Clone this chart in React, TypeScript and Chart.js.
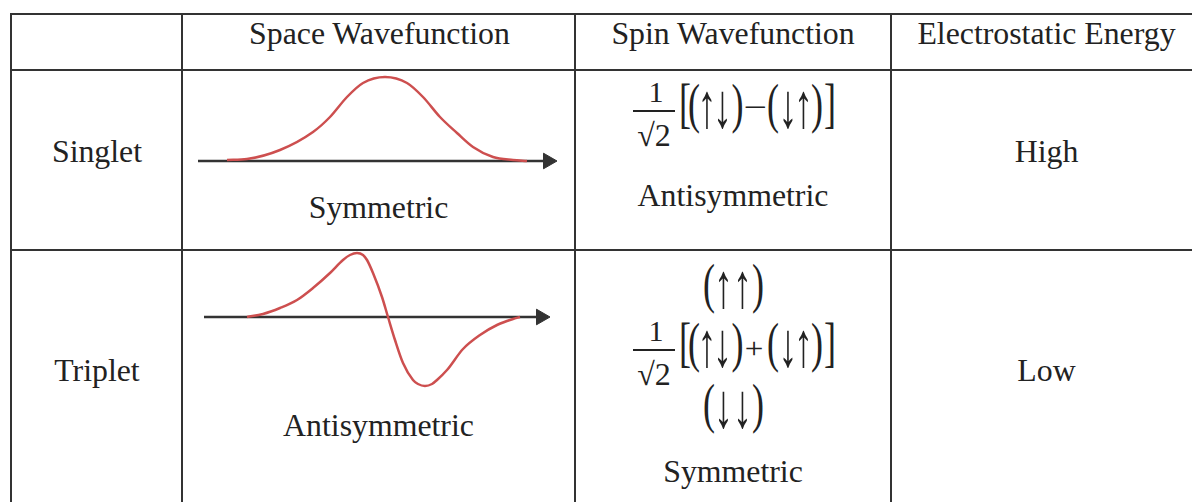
import React, { useEffect, useRef } from 'react';
import { Chart, registerables } from 'chart.js';

Chart.register(...registerables);

// ---------- data ----------
const columnHeaders = ['Space Wavefunction', 'Spin Wavefunction', 'Electrostatic Energy'];
const stateNames = ['Singlet', 'Triplet'];
const energyLevels = ['High', 'Low'];
const spaceSymmetry = ['Symmetric', 'Antisymmetric'];
const spinSymmetry = ['Antisymmetric', 'Symmetric'];
const singletSpinTerms = ['↑↓', '↓↑'];
const tripletSpinTerms = ['↑↓', '↓↑'];
const tripletSpinTop = '↑↑';
const tripletSpinBottom = '↓↓';
const spinSigns = ['−', '+'];

// Singlet (symmetric) space wavefunction: position relative to the peak, amplitude
const singletX = [-158, -138, -105, -72, -55, -38, -22, 0, 22, 38, 55, 72, 88, 108, 128, 142];
const singletY = [1, 2, 11, 29, 44, 64, 78, 84, 78, 64, 44, 28, 14, 4, 1, 0];
const singletAxisX = [-187, 163];

// Triplet (antisymmetric) space wavefunction: position relative to the node, amplitude
const tripletX = [-141, -125, -108, -91, -75, -58, -45, -38, -31, -25, -21, -15, -6, 0, 7, 15, 25, 30, 37, 44, 49, 59, 75, 92, 109, 125, 132];
const tripletY = [0, 3, 9, 17, 29, 44, 57, 62, 64, 62, 57, 44, 20, 0, -23, -46, -63, -67, -69, -67, -63, -53, -32, -18, -8, -2, 0];
const tripletAxisX = [-184, 153];

// ---------- styles ----------
const INK = '#222';
const RULE = '#333';
const RED = '#cd4f4f';
const FONT = '"Liberation Serif", "Times New Roman", serif';

type Box = { x: number; y: number; w: number; h: number };

function WaveChart({ xs, ys, axisX, box, origin }: { xs: number[]; ys: number[]; axisX: number[]; box: Box; origin: [number, number] }) {
  const ref = useRef<HTMLCanvasElement>(null);
  useEffect(() => {
    const chart = new Chart(ref.current as HTMLCanvasElement, {
      type: 'line',
      data: {
        datasets: [
          {
            data: xs.map((x, i) => ({ x, y: ys[i] })),
            borderColor: RED,
            borderWidth: 2.5,
            pointRadius: 0,
            pointHoverRadius: 0,
            cubicInterpolationMode: 'monotone',
            fill: false,
          },
          {
            data: axisX.map((x) => ({ x, y: 0 })),
            borderColor: RULE,
            borderWidth: 2.5,
            pointRadius: [0, 9],
            pointHoverRadius: 0,
            pointStyle: 'triangle',
            pointRotation: 90,
            pointBackgroundColor: RULE,
            pointBorderColor: RULE,
            pointBorderWidth: 1,
            fill: false,
          },
        ],
      } as any,
      options: {
        animation: false,
        responsive: false,
        events: [],
        layout: { padding: 0, autoPadding: false } as any,
        plugins: { legend: { display: false }, tooltip: { enabled: false } },
        scales: {
          x: { type: 'linear', display: false, min: box.x - origin[0], max: box.x + box.w - origin[0] },
          y: { type: 'linear', display: false, min: origin[1] - (box.y + box.h), max: origin[1] - box.y },
        },
      },
    });
    return () => chart.destroy();
  }, []);
  return (
    <canvas
      ref={ref}
      width={box.w}
      height={box.h}
      style={{ position: 'absolute', left: box.x, top: box.y, width: box.w, height: box.h }}
    />
  );
}

const TS = 31.8;

function Label({ text, cx, base, size = TS }: { text: string; cx: number; base: number; size?: number }) {
  return (
    <div
      style={{
        position: 'absolute',
        left: cx,
        top: base - 0.8375 * size,
        fontSize: size,
        lineHeight: `${size}px`,
        transform: 'translateX(-50%)',
        whiteSpace: 'nowrap',
      }}
    >
      {text}
    </div>
  );
}

function G({ ch, cx, cy, size, sx = 1, sy = 1, ls = 0, lh = 1 }: { ch: string; cx: number; cy: number; size: number; sx?: number; sy?: number; ls?: number; lh?: number }) {
  return (
    <span
      style={{
        position: 'absolute',
        left: cx,
        top: cy,
        fontSize: size,
        lineHeight: `${size * lh}px`,
        letterSpacing: ls,
        transform: `translate(-50%, -50%) scale(${sx}, ${sy})`,
        whiteSpace: 'nowrap',
      }}
    >
      {ch}
    </span>
  );
}

const PS = 36; // paren font size
const PSY = 1.5;
const AS = 36; // arrow font size
const ASX = 1.05;
const ASY = 1.75;
const TLH = 0.7; // compact line box for stretched glyphs

let arrowAdvance: number | null = null;
function getArrowAdvance(): number {
  if (arrowAdvance == null) {
    const ctx = document.createElement('canvas').getContext('2d');
    if (ctx) {
      ctx.font = `${AS}px ${FONT}`;
      arrowAdvance = ctx.measureText('↑').width;
    } else {
      arrowAdvance = 18;
    }
  }
  return arrowAdvance;
}

// two arrows as one text, centred on `mid`, their centres `gap` px apart
function ArrowPair({ pair, mid, cy, gap }: { pair: string; mid: number; cy: number; gap: number }) {
  const adv = getArrowAdvance();
  const ls = gap / ASX - adv;
  return <G ch={pair} cx={mid + (ls / 2) * ASX} cy={cy} size={AS} sx={ASX} sy={ASY} ls={ls} lh={TLH} />;
}

function Paren({ ch, cx, cy, sy = PSY, ls = 0 }: { ch: string; cx: number; cy: number; sy?: number; ls?: number }) {
  return <G ch={ch} cx={cx} cy={cy} size={PS} sy={sy} ls={ls} lh={TLH} />;
}

function SpinFormula({ x0, y0, terms, sign }: { x0: number; y0: number; terms: string[]; sign: string }) {
  return (
    <>
      <G ch="1" cx={x0 + 24} cy={y0 - 18} size={30} />
      <div style={{ position: 'absolute', left: x0 + 1, top: y0 + 0.25, width: 42, height: 1.5, background: INK }} />
      <G ch="√2" cx={x0 + 22} cy={y0 + 25} size={32} />
      <Paren ch="[(" cx={x0 + 56} cy={y0 - 5} sy={1.52} ls={-3} />
      <ArrowPair pair={terms[0]} mid={x0 + 82.75} cy={y0 - 3} gap={15.5} />
      <Paren ch=")" cx={x0 + 105.5} cy={y0 - 5} />
      {sign === '+' ? (
        <G ch="+" cx={x0 + 122} cy={y0 - 2} size={30} sx={1.1} lh={TLH} />
      ) : (
        <G ch="−" cx={x0 + 123} cy={y0 - 3} size={32} sx={1.3} lh={TLH} />
      )}
      <Paren ch="(" cx={x0 + 141} cy={y0 - 5} />
      <ArrowPair pair={terms[1]} mid={x0 + 163.25} cy={y0 - 3} gap={15.5} />
      <Paren ch=")" cx={x0 + 185} cy={y0 - 5} />
      <Paren ch="]" cx={x0 + 198} cy={y0 - 5} sy={1.52} />
    </>
  );
}

function SpinPair({ x0, cy, pair }: { x0: number; cy: number; pair: string }) {
  return (
    <>
      <Paren ch="(" cx={x0} cy={cy - 5} />
      <ArrowPair pair={pair} mid={x0 + 23.5} cy={cy - 3} gap={19} />
      <Paren ch=")" cx={x0 + 49} cy={cy - 5} />
    </>
  );
}

function HLine({ y, x1, x2 }: { y: number; x1: number; x2: number }) {
  return <div style={{ position: 'absolute', left: x1, top: y - 1, width: x2 - x1, height: 2, background: RULE }} />;
}
function VLine({ x, y1, y2 }: { x: number; y1: number; y2: number }) {
  return <div style={{ position: 'absolute', left: x - 1, top: y1, width: 2, height: y2 - y1, background: RULE }} />;
}

export default function App() {
  const colX = [11, 182, 575, 891];
  const rowY = [14, 70, 250];
  const headerCx = [379.5, 733, 1046.5];
  return (
    <div
      style={{
        position: 'absolute',
        left: 0,
        top: 0,
        width: 1192,
        height: 502,
        overflow: 'hidden',
        background: '#fff',
        fontFamily: FONT,
        color: INK,
      }}
    >
      {rowY.map((y) => (
        <HLine key={'h' + y} y={y} x1={10} x2={1192} />
      ))}
      {colX.map((x) => (
        <VLine key={'v' + x} x={x} y1={13} y2={502} />
      ))}

      {columnHeaders.map((h, i) => (
        <Label key={h} text={h} cx={headerCx[i]} base={45} />
      ))}

      <Label text={stateNames[0]} cx={97} base={163} />
      <Label text={stateNames[1]} cx={97} base={382} />
      <Label text={energyLevels[0]} cx={1046.5} base={163} />
      <Label text={energyLevels[1]} cx={1046.5} base={382} />

      <WaveChart xs={singletX} ys={singletY} axisX={singletAxisX} box={{ x: 190, y: 68, w: 375, h: 110 }} origin={[385, 161]} />
      <WaveChart xs={tripletX} ys={tripletY} axisX={tripletAxisX} box={{ x: 195, y: 240, w: 370, h: 160 }} origin={[388, 317]} />
      <Label text={spaceSymmetry[0]} cx={378.5} base={219} />
      <Label text={spaceSymmetry[1]} cx={378.5} base={437} />

      <SpinFormula x0={632} y0={110} terms={singletSpinTerms} sign={spinSigns[0]} />
      <Label text={spinSymmetry[0]} cx={733} base={207} />

      <SpinPair x0={709} cy={289.5} pair={tripletSpinTop} />
      <SpinFormula x0={632} y0={349} terms={tripletSpinTerms} sign={spinSigns[1]} />
      <SpinPair x0={709} cy={410} pair={tripletSpinBottom} />
      <Label text={spinSymmetry[1]} cx={733} base={483} />
    </div>
  );
}
